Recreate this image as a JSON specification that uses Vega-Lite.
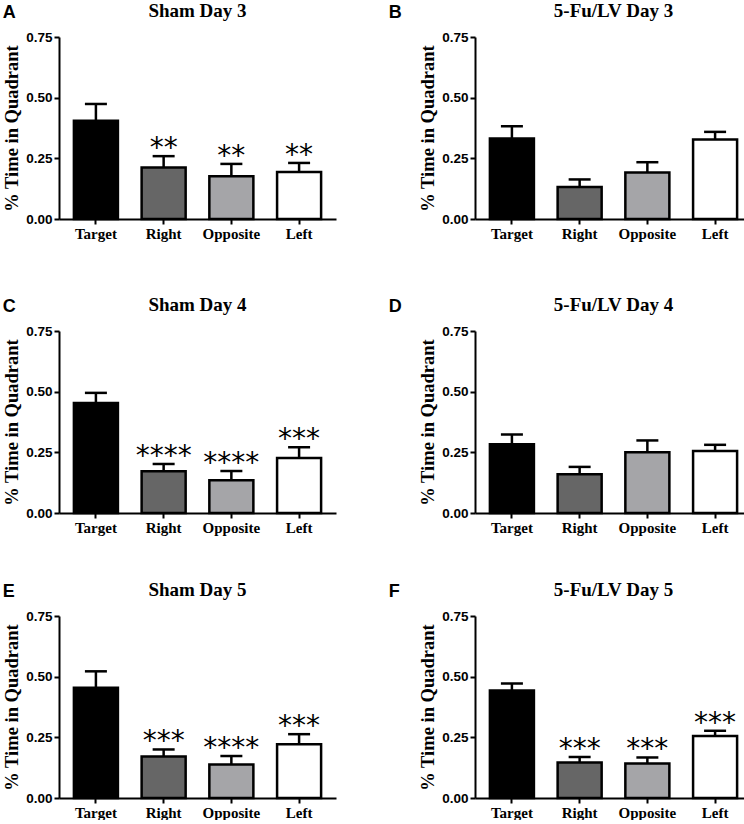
{
  "$schema": "https://vega.github.io/schema/vega-lite/v6.json",
  "padding": {"left": 2, "top": 2, "right": 0, "bottom": 0},
  "background": "white",
  "datasets": {
    "bars": [
      {"panel": "A", "quadrant": "Target", "mean": 0.405, "upper": 0.474, "stars": ""},
      {"panel": "A", "quadrant": "Right", "mean": 0.212, "upper": 0.259, "stars": "**"},
      {"panel": "A", "quadrant": "Opposite", "mean": 0.176, "upper": 0.227, "stars": "**"},
      {"panel": "A", "quadrant": "Left", "mean": 0.194, "upper": 0.231, "stars": "**"},
      {"panel": "B", "quadrant": "Target", "mean": 0.332, "upper": 0.382, "stars": ""},
      {"panel": "B", "quadrant": "Right", "mean": 0.132, "upper": 0.163, "stars": ""},
      {"panel": "B", "quadrant": "Opposite", "mean": 0.192, "upper": 0.234, "stars": ""},
      {"panel": "B", "quadrant": "Left", "mean": 0.328, "upper": 0.359, "stars": ""},
      {"panel": "C", "quadrant": "Target", "mean": 0.453, "upper": 0.495, "stars": ""},
      {"panel": "C", "quadrant": "Right", "mean": 0.172, "upper": 0.202, "stars": "****"},
      {"panel": "C", "quadrant": "Opposite", "mean": 0.135, "upper": 0.173, "stars": "****"},
      {"panel": "C", "quadrant": "Left", "mean": 0.227, "upper": 0.271, "stars": "***"},
      {"panel": "D", "quadrant": "Target", "mean": 0.283, "upper": 0.323, "stars": ""},
      {"panel": "D", "quadrant": "Right", "mean": 0.16, "upper": 0.19, "stars": ""},
      {"panel": "D", "quadrant": "Opposite", "mean": 0.25, "upper": 0.299, "stars": ""},
      {"panel": "D", "quadrant": "Left", "mean": 0.256, "upper": 0.281, "stars": ""},
      {"panel": "E", "quadrant": "Target", "mean": 0.454, "upper": 0.522, "stars": ""},
      {"panel": "E", "quadrant": "Right", "mean": 0.171, "upper": 0.2, "stars": "***"},
      {"panel": "E", "quadrant": "Opposite", "mean": 0.138, "upper": 0.173, "stars": "****"},
      {"panel": "E", "quadrant": "Left", "mean": 0.222, "upper": 0.263, "stars": "***"},
      {"panel": "F", "quadrant": "Target", "mean": 0.443, "upper": 0.472, "stars": ""},
      {"panel": "F", "quadrant": "Right", "mean": 0.146, "upper": 0.169, "stars": "***"},
      {"panel": "F", "quadrant": "Opposite", "mean": 0.142, "upper": 0.167, "stars": "***"},
      {"panel": "F", "quadrant": "Left", "mean": 0.255, "upper": 0.277, "stars": "***"}
    ]
  },
  "config": {
    "view": {"stroke": null},
    "title": {"font": "Liberation Serif", "fontSize": 19, "fontWeight": "bold", "color": "black", "offset": 9, "frame": "group", "anchor": "middle"},
    "axis": {"domainColor": "black", "domainWidth": 2, "tickColor": "black", "tickWidth": 2, "tickSize": 5, "grid": false, "labelColor": "black", "titleColor": "black"},
    "axisX": {"labelFont": "Liberation Serif", "labelFontSize": 15, "labelFontWeight": "bold", "labelPadding": 2, "labelAngle": 0},
    "axisY": {"labelFont": "Liberation Sans", "labelFontSize": 13.5, "labelFontWeight": "bold", "labelPadding": 2, "titleFont": "Liberation Serif", "titleFontSize": 18.5, "titleFontWeight": "bold", "titlePadding": 4}
  },
  "spacing": 55,
  "vconcat": [
    {
      "spacing": 52,
      "hconcat": [
        {
          "title": {"text": "A", "anchor": "start", "frame": "bounds", "font": "Liberation Sans", "fontSize": 18, "fontWeight": "bold", "offset": 4, "dy": 24, "dx": 0},
          "vconcat": [
            {
              "width": 277, "height": 182,
              "title": "Sham Day 3",
              "data": {"name": "bars"},
              "transform": [{"filter": "datum.panel === 'A'"}],
              "encoding": {"x": {"field": "quadrant", "type": "nominal", "sort": ["Target", "Right", "Opposite", "Left"], "scale": {"paddingInner": 0.35, "paddingOuter": 0.22}, "axis": {"title": null}}},
              "layer": [
                {"mark": {"type": "bar", "stroke": "black", "strokeWidth": 2.5}, "encoding": {"y": {"field": "mean", "type": "quantitative", "title": "% Time in Quadrant", "scale": {"domain": [0, 0.75], "nice": false}, "axis": {"values": [0, 0.25, 0.5, 0.75], "format": ".2f"}}, "fill": {"field": "quadrant", "type": "nominal", "scale": {"domain": ["Target", "Right", "Opposite", "Left"], "range": ["#000000", "#666666", "#a5a5a8", "#ffffff"]}, "legend": null}}},
                {"mark": {"type": "rule", "strokeWidth": 2.5, "color": "black"}, "encoding": {"y": {"field": "mean", "type": "quantitative", "title": "% Time in Quadrant"}, "y2": {"field": "upper"}}},
                {"mark": {"type": "tick", "size": 22, "thickness": 2.5, "color": "black", "opacity": 1}, "encoding": {"y": {"field": "upper", "type": "quantitative", "title": "% Time in Quadrant"}}},
                {"mark": {"type": "text", "font": "DejaVu Sans", "fontSize": 28, "baseline": "alphabetic", "dy": 1, "color": "black"}, "encoding": {"y": {"field": "upper", "type": "quantitative", "title": "% Time in Quadrant"}, "text": {"field": "stars"}}}
              ]
            }
          ]
        },
        {
          "title": {"text": "B", "anchor": "start", "frame": "bounds", "font": "Liberation Sans", "fontSize": 18, "fontWeight": "bold", "offset": 4, "dy": 24, "dx": -30},
          "vconcat": [
            {
              "width": 277, "height": 182,
              "title": "5-Fu/LV Day 3",
              "data": {"name": "bars"},
              "transform": [{"filter": "datum.panel === 'B'"}],
              "encoding": {"x": {"field": "quadrant", "type": "nominal", "sort": ["Target", "Right", "Opposite", "Left"], "scale": {"paddingInner": 0.35, "paddingOuter": 0.22}, "axis": {"title": null}}},
              "layer": [
                {"mark": {"type": "bar", "stroke": "black", "strokeWidth": 2.5}, "encoding": {"y": {"field": "mean", "type": "quantitative", "title": "% Time in Quadrant", "scale": {"domain": [0, 0.75], "nice": false}, "axis": {"values": [0, 0.25, 0.5, 0.75], "format": ".2f"}}, "fill": {"field": "quadrant", "type": "nominal", "scale": {"domain": ["Target", "Right", "Opposite", "Left"], "range": ["#000000", "#666666", "#a5a5a8", "#ffffff"]}, "legend": null}}},
                {"mark": {"type": "rule", "strokeWidth": 2.5, "color": "black"}, "encoding": {"y": {"field": "mean", "type": "quantitative", "title": "% Time in Quadrant"}, "y2": {"field": "upper"}}},
                {"mark": {"type": "tick", "size": 22, "thickness": 2.5, "color": "black", "opacity": 1}, "encoding": {"y": {"field": "upper", "type": "quantitative", "title": "% Time in Quadrant"}}},
                {"mark": {"type": "text", "font": "DejaVu Sans", "fontSize": 28, "baseline": "alphabetic", "dy": 1, "color": "black"}, "encoding": {"y": {"field": "upper", "type": "quantitative", "title": "% Time in Quadrant"}, "text": {"field": "stars"}}}
              ]
            }
          ]
        }
      ]
    },
    {
      "spacing": 46,
      "vconcat": [
        {
          "spacing": 52,
          "hconcat": [
            {
              "title": {"text": "C", "anchor": "start", "frame": "bounds", "font": "Liberation Sans", "fontSize": 18, "fontWeight": "bold", "offset": 4, "dy": 24, "dx": 0},
              "vconcat": [
                {
                  "width": 277, "height": 182,
                  "title": "Sham Day 4",
                  "data": {"name": "bars"},
                  "transform": [{"filter": "datum.panel === 'C'"}],
                  "encoding": {"x": {"field": "quadrant", "type": "nominal", "sort": ["Target", "Right", "Opposite", "Left"], "scale": {"paddingInner": 0.35, "paddingOuter": 0.22}, "axis": {"title": null}}},
                  "layer": [
                    {"mark": {"type": "bar", "stroke": "black", "strokeWidth": 2.5}, "encoding": {"y": {"field": "mean", "type": "quantitative", "title": "% Time in Quadrant", "scale": {"domain": [0, 0.75], "nice": false}, "axis": {"values": [0, 0.25, 0.5, 0.75], "format": ".2f"}}, "fill": {"field": "quadrant", "type": "nominal", "scale": {"domain": ["Target", "Right", "Opposite", "Left"], "range": ["#000000", "#666666", "#a5a5a8", "#ffffff"]}, "legend": null}}},
                    {"mark": {"type": "rule", "strokeWidth": 2.5, "color": "black"}, "encoding": {"y": {"field": "mean", "type": "quantitative", "title": "% Time in Quadrant"}, "y2": {"field": "upper"}}},
                    {"mark": {"type": "tick", "size": 22, "thickness": 2.5, "color": "black", "opacity": 1}, "encoding": {"y": {"field": "upper", "type": "quantitative", "title": "% Time in Quadrant"}}},
                    {"mark": {"type": "text", "font": "DejaVu Sans", "fontSize": 28, "baseline": "alphabetic", "dy": 1, "color": "black"}, "encoding": {"y": {"field": "upper", "type": "quantitative", "title": "% Time in Quadrant"}, "text": {"field": "stars"}}}
                  ]
                }
              ]
            },
            {
              "title": {"text": "D", "anchor": "start", "frame": "bounds", "font": "Liberation Sans", "fontSize": 18, "fontWeight": "bold", "offset": 4, "dy": 24, "dx": -30},
              "vconcat": [
                {
                  "width": 277, "height": 182,
                  "title": "5-Fu/LV Day 4",
                  "data": {"name": "bars"},
                  "transform": [{"filter": "datum.panel === 'D'"}],
                  "encoding": {"x": {"field": "quadrant", "type": "nominal", "sort": ["Target", "Right", "Opposite", "Left"], "scale": {"paddingInner": 0.35, "paddingOuter": 0.22}, "axis": {"title": null}}},
                  "layer": [
                    {"mark": {"type": "bar", "stroke": "black", "strokeWidth": 2.5}, "encoding": {"y": {"field": "mean", "type": "quantitative", "title": "% Time in Quadrant", "scale": {"domain": [0, 0.75], "nice": false}, "axis": {"values": [0, 0.25, 0.5, 0.75], "format": ".2f"}}, "fill": {"field": "quadrant", "type": "nominal", "scale": {"domain": ["Target", "Right", "Opposite", "Left"], "range": ["#000000", "#666666", "#a5a5a8", "#ffffff"]}, "legend": null}}},
                    {"mark": {"type": "rule", "strokeWidth": 2.5, "color": "black"}, "encoding": {"y": {"field": "mean", "type": "quantitative", "title": "% Time in Quadrant"}, "y2": {"field": "upper"}}},
                    {"mark": {"type": "tick", "size": 22, "thickness": 2.5, "color": "black", "opacity": 1}, "encoding": {"y": {"field": "upper", "type": "quantitative", "title": "% Time in Quadrant"}}},
                    {"mark": {"type": "text", "font": "DejaVu Sans", "fontSize": 28, "baseline": "alphabetic", "dy": 1, "color": "black"}, "encoding": {"y": {"field": "upper", "type": "quantitative", "title": "% Time in Quadrant"}, "text": {"field": "stars"}}}
                  ]
                }
              ]
            }
          ]
        },
        {
          "spacing": 52,
          "hconcat": [
            {
              "title": {"text": "E", "anchor": "start", "frame": "bounds", "font": "Liberation Sans", "fontSize": 18, "fontWeight": "bold", "offset": 4, "dy": 24, "dx": 0},
              "vconcat": [
                {
                  "width": 277, "height": 182,
                  "title": "Sham Day 5",
                  "data": {"name": "bars"},
                  "transform": [{"filter": "datum.panel === 'E'"}],
                  "encoding": {"x": {"field": "quadrant", "type": "nominal", "sort": ["Target", "Right", "Opposite", "Left"], "scale": {"paddingInner": 0.35, "paddingOuter": 0.22}, "axis": {"title": null}}},
                  "layer": [
                    {"mark": {"type": "bar", "stroke": "black", "strokeWidth": 2.5}, "encoding": {"y": {"field": "mean", "type": "quantitative", "title": "% Time in Quadrant", "scale": {"domain": [0, 0.75], "nice": false}, "axis": {"values": [0, 0.25, 0.5, 0.75], "format": ".2f"}}, "fill": {"field": "quadrant", "type": "nominal", "scale": {"domain": ["Target", "Right", "Opposite", "Left"], "range": ["#000000", "#666666", "#a5a5a8", "#ffffff"]}, "legend": null}}},
                    {"mark": {"type": "rule", "strokeWidth": 2.5, "color": "black"}, "encoding": {"y": {"field": "mean", "type": "quantitative", "title": "% Time in Quadrant"}, "y2": {"field": "upper"}}},
                    {"mark": {"type": "tick", "size": 22, "thickness": 2.5, "color": "black", "opacity": 1}, "encoding": {"y": {"field": "upper", "type": "quantitative", "title": "% Time in Quadrant"}}},
                    {"mark": {"type": "text", "font": "DejaVu Sans", "fontSize": 28, "baseline": "alphabetic", "dy": 1, "color": "black"}, "encoding": {"y": {"field": "upper", "type": "quantitative", "title": "% Time in Quadrant"}, "text": {"field": "stars"}}}
                  ]
                }
              ]
            },
            {
              "title": {"text": "F", "anchor": "start", "frame": "bounds", "font": "Liberation Sans", "fontSize": 18, "fontWeight": "bold", "offset": 4, "dy": 24, "dx": -30},
              "vconcat": [
                {
                  "width": 277, "height": 182,
                  "title": "5-Fu/LV Day 5",
                  "data": {"name": "bars"},
                  "transform": [{"filter": "datum.panel === 'F'"}],
                  "encoding": {"x": {"field": "quadrant", "type": "nominal", "sort": ["Target", "Right", "Opposite", "Left"], "scale": {"paddingInner": 0.35, "paddingOuter": 0.22}, "axis": {"title": null}}},
                  "layer": [
                    {"mark": {"type": "bar", "stroke": "black", "strokeWidth": 2.5}, "encoding": {"y": {"field": "mean", "type": "quantitative", "title": "% Time in Quadrant", "scale": {"domain": [0, 0.75], "nice": false}, "axis": {"values": [0, 0.25, 0.5, 0.75], "format": ".2f"}}, "fill": {"field": "quadrant", "type": "nominal", "scale": {"domain": ["Target", "Right", "Opposite", "Left"], "range": ["#000000", "#666666", "#a5a5a8", "#ffffff"]}, "legend": null}}},
                    {"mark": {"type": "rule", "strokeWidth": 2.5, "color": "black"}, "encoding": {"y": {"field": "mean", "type": "quantitative", "title": "% Time in Quadrant"}, "y2": {"field": "upper"}}},
                    {"mark": {"type": "tick", "size": 22, "thickness": 2.5, "color": "black", "opacity": 1}, "encoding": {"y": {"field": "upper", "type": "quantitative", "title": "% Time in Quadrant"}}},
                    {"mark": {"type": "text", "font": "DejaVu Sans", "fontSize": 28, "baseline": "alphabetic", "dy": 1, "color": "black"}, "encoding": {"y": {"field": "upper", "type": "quantitative", "title": "% Time in Quadrant"}, "text": {"field": "stars"}}}
                  ]
                }
              ]
            }
          ]
        }
      ]
    }
  ]
}
